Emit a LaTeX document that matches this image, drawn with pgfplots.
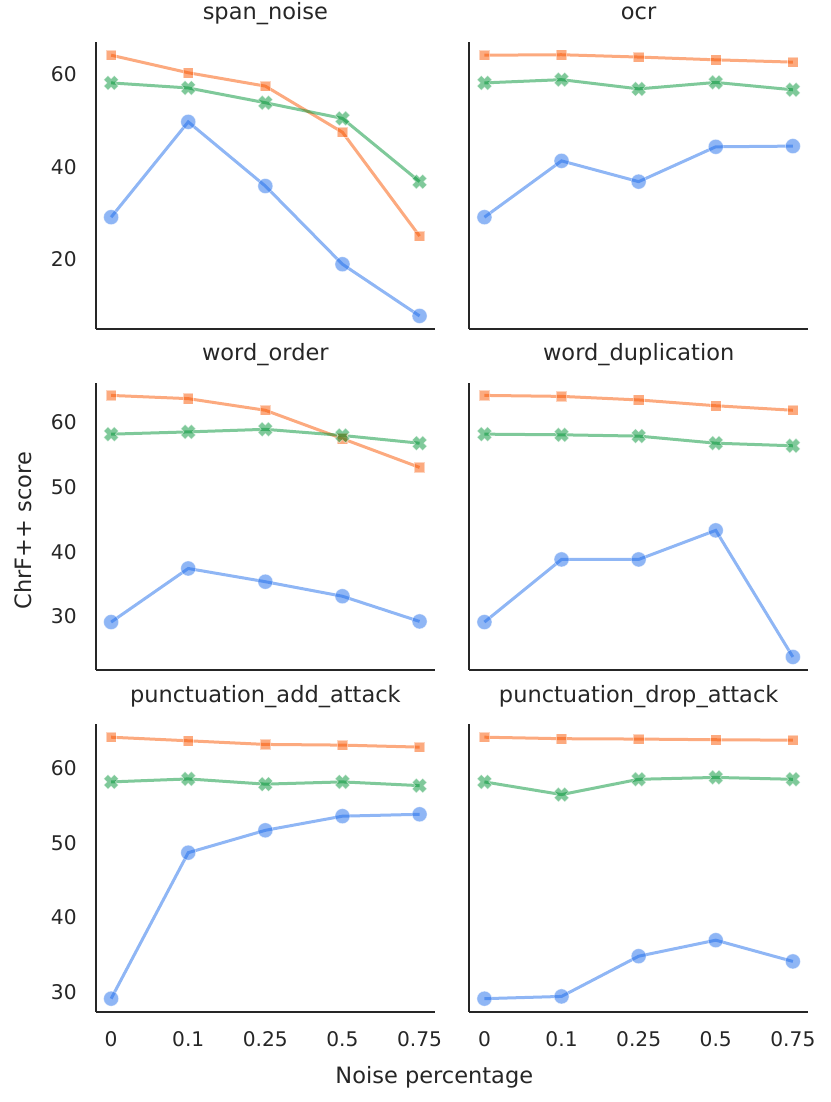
\documentclass[border=0pt]{standalone}
\usepackage{fontspec}
\setmainfont{DejaVu Sans}
\usepackage{pgfplots}
\usepackage{pgfplotstable}
\pgfplotsset{compat=1.18}

\definecolor{cb}{HTML}{1F6DEB}
\definecolor{co}{HTML}{F95500}
\definecolor{cg}{HTML}{009335}
\definecolor{spine}{HTML}{262626}

% columns: x  blue  orange  green
\pgfplotstableread{
x  b      o      g
0  29.1   64.2   58.2
1  49.75  60.4   57.1
2  35.85  57.5   53.9
3  18.9   47.5   50.5
4  7.7    25.0   36.8
}\spannoise
\pgfplotstableread{
x  b      o      g
0  29.1   64.2   58.2
1  41.3   64.3   58.9
2  36.8   63.8   56.9
3  44.35  63.2   58.3
4  44.5   62.7   56.7
}\ocr
\pgfplotstableread{
x  b      o      g
0  29.1   64.2   58.2
1  37.4   63.7   58.55
2  35.35  61.9   58.95
3  33.1   57.5   58.0
4  29.2   53.05  56.8
}\wordorder
\pgfplotstableread{
x  b      o      g
0  29.1   64.2   58.2
1  38.8   64.05  58.1
2  38.8   63.5   57.9
3  43.3   62.6   56.8
4  23.7   61.9   56.4
}\worddup
\pgfplotstableread{
x  b      o      g
0  29.1   64.2   58.2
1  48.7   63.72  58.6
2  51.7   63.23  57.9
3  53.6   63.14  58.2
4  53.85  62.87  57.7
}\punctadd
\pgfplotstableread{
x  b      o      g
0  29.1   64.2   58.2
1  29.4   64.0   56.5
2  34.8   63.95  58.55
3  36.95  63.86  58.8
4  34.1   63.8   58.55
}\punctdrop

\pgfdeclareplotmark{Xf}{%
  \pgftransformrotate{45}%
  \pgfpathmoveto{\pgfqpoint{0.4\pgfplotmarksize}{\pgfplotmarksize}}%
  \pgfpathlineto{\pgfqpoint{0.4\pgfplotmarksize}{0.4\pgfplotmarksize}}%
  \pgfpathlineto{\pgfqpoint{\pgfplotmarksize}{0.4\pgfplotmarksize}}%
  \pgfpathlineto{\pgfqpoint{\pgfplotmarksize}{-0.4\pgfplotmarksize}}%
  \pgfpathlineto{\pgfqpoint{0.4\pgfplotmarksize}{-0.4\pgfplotmarksize}}%
  \pgfpathlineto{\pgfqpoint{0.4\pgfplotmarksize}{-\pgfplotmarksize}}%
  \pgfpathlineto{\pgfqpoint{-0.4\pgfplotmarksize}{-\pgfplotmarksize}}%
  \pgfpathlineto{\pgfqpoint{-0.4\pgfplotmarksize}{-0.4\pgfplotmarksize}}%
  \pgfpathlineto{\pgfqpoint{-\pgfplotmarksize}{-0.4\pgfplotmarksize}}%
  \pgfpathlineto{\pgfqpoint{-\pgfplotmarksize}{0.4\pgfplotmarksize}}%
  \pgfpathlineto{\pgfqpoint{-0.4\pgfplotmarksize}{0.4\pgfplotmarksize}}%
  \pgfpathlineto{\pgfqpoint{-0.4\pgfplotmarksize}{\pgfplotmarksize}}%
  \pgfpathclose
  \pgfusepathqfillstroke
}

\pgfplotsset{
  panel/.style={
    scale only axis, width=169.65pt, height=143.65pt, anchor=south west,
    xmin=-0.2, xmax=4.2, xtick={0,1,2,3,4},
    xticklabels={0,0.1,0.25,0.5,0.75},
    axis x line*=bottom, axis y line*=left,
    axis line style={spine, line width=1.05pt, -},
    major tick length=0pt,
    tick label style={font=\fontsize{10.1}{12}\selectfont, text=spine},
    /pgf/number format/assume math mode=true,
    title style={font=\fontsize{11.25}{13}\selectfont, text=spine,
      at={(0.5,1)}, anchor=base, yshift=5pt},
    xticklabel shift=6.6pt, yticklabel shift=6pt,
  },
  row1/.style={ymin=4.87, ymax=67.13, ytick={20,40,60}},
  row2/.style={ymin=21.68, ymax=66.17, ytick={30,40,50,60}},
  row3/.style={ymin=27.35, ymax=65.92, ytick={30,40,50,60}},
  sb/.style={color=cb, opacity=0.5, line width=1.5pt, mark=*, mark size=3.75pt,
    mark options={draw=white, line width=0.3pt, fill=cb, solid}},
  so/.style={color=co, opacity=0.5, line width=1.5pt, mark=square*, mark size=2.6pt,
    mark options={draw=white, line width=0.3pt, fill=co, solid}},
  sg/.style={color=cg, opacity=0.5, line width=1.5pt, mark=Xf, mark size=3.7pt,
    mark options={draw=white, line width=0.3pt, fill=cg, solid}},
}

\newcommand{\threeplots}[1]{%
  \addplot[sb] table[x=x, y=b] {#1};
  \addplot[so] table[x=x, y=o] {#1};
  \addplot[sg] table[x=x, y=g] {#1};
}

\begin{document}
\begin{tikzpicture}
\useasboundingbox (0,0) rectangle (415pt,551pt);

% Row 1
\begin{axis}[panel, row1, at={(47.85pt,386.5pt)}, xtick=\empty, title={span\_noise}]
\threeplots{\spannoise}
\end{axis}
\begin{axis}[panel, row1, at={(234.5pt,386.5pt)}, xtick=\empty, ytick=\empty, title={ocr}]
\threeplots{\ocr}
\end{axis}

% Row 2
\begin{axis}[panel, row2, at={(47.85pt,216pt)}, xtick=\empty, title={word\_order}]
\threeplots{\wordorder}
\end{axis}
\begin{axis}[panel, row2, at={(234.5pt,216pt)}, xtick=\empty, ytick=\empty, title={word\_duplication}]
\threeplots{\worddup}
\end{axis}

% Row 3
\begin{axis}[panel, row3, at={(47.85pt,45.15pt)}, title={punctuation\_add\_attack}]
\threeplots{\punctadd}
\end{axis}
\begin{axis}[panel, row3, at={(234.5pt,45.15pt)}, ytick=\empty, title={punctuation\_drop\_attack}]
\threeplots{\punctdrop}
\end{axis}

\node[rotate=90, anchor=base, text=spine, font=\fontsize{11.25}{13}\selectfont] at (15.85pt,285.6pt) {ChrF++ score};
\node[anchor=base, text=spine, font=\fontsize{11.25}{13}\selectfont] at (217.15pt,9.35pt) {Noise percentage};
\end{tikzpicture}
\end{document}
